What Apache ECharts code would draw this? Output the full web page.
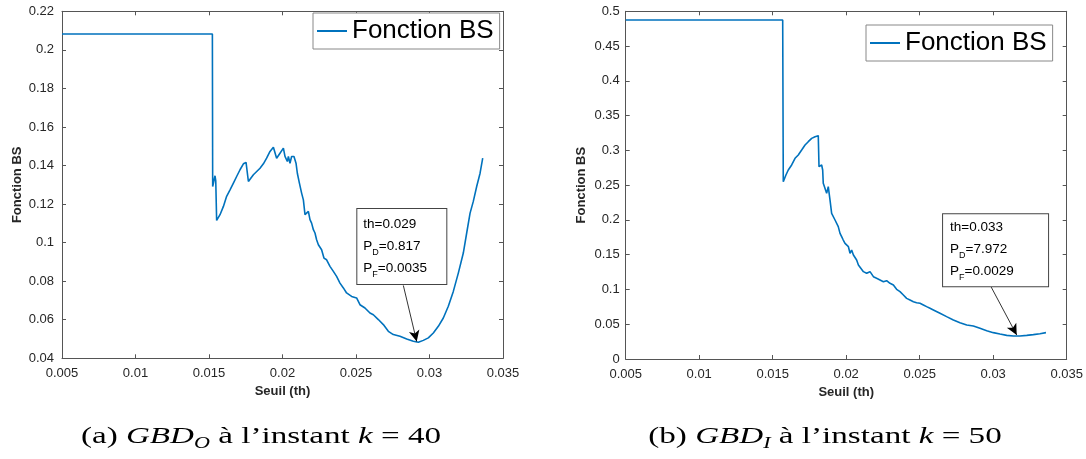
<!DOCTYPE html>
<html>
<head>
<meta charset="utf-8">
<script src="https://cdn.jsdelivr.net/npm/echarts@6/dist/echarts.min.js"></script>
<style>
html,body{margin:0;padding:0;background:#fff;}
#c{width:1086px;height:459px;}
</style>
</head>
<body>
<div id="c"></div>
<script>
// ---- Data (a) GBD_O, k = 40 ----
const thA = [0.005, 0.01523, 0.01525, 0.01535, 0.01541, 0.01546, 0.01552, 0.01575, 0.01598, 0.01620,
  0.01643, 0.01666, 0.01688, 0.01711, 0.01734, 0.01752, 0.01768, 0.01802, 0.01847, 0.01870,
  0.01892, 0.01915, 0.01938, 0.01949, 0.01960, 0.01983, 0.02006, 0.02017, 0.02033, 0.02040,
  0.02051, 0.02062, 0.02078, 0.02092, 0.02101, 0.02115, 0.02130, 0.02142, 0.02153, 0.02164,
  0.02176, 0.02187, 0.02198, 0.02210, 0.02221, 0.02232, 0.02244, 0.02266, 0.02282, 0.02300,
  0.02323, 0.02346, 0.02368, 0.02391, 0.02414, 0.02436, 0.02470, 0.02504, 0.02527, 0.02561,
  0.02595, 0.02618, 0.02652, 0.02686, 0.02720, 0.02754, 0.02799, 0.02845, 0.02890, 0.02924,
  0.02958, 0.02992, 0.03026, 0.03060, 0.03094, 0.03128, 0.03162, 0.03196, 0.03230, 0.03253,
  0.03276, 0.03298, 0.03321, 0.03344, 0.03355, 0.03362];
const bsA = [0.2082, 0.2082, 0.1291, 0.1300, 0.1347, 0.1320, 0.1115, 0.1145, 0.1188, 0.1240,
  0.1274, 0.1309, 0.1343, 0.1378, 0.1409, 0.1416, 0.1317, 0.1352, 0.1386, 0.1409,
  0.1438, 0.1473, 0.1495, 0.1502, 0.1438, 0.1464, 0.1490, 0.1447, 0.1421, 0.1447,
  0.1412, 0.1447, 0.1447, 0.1412, 0.1360, 0.1309, 0.1257, 0.1222, 0.1145, 0.1136,
  0.1162, 0.1119, 0.1101, 0.1067, 0.1050, 0.1015, 0.0989, 0.0963, 0.0920, 0.0911,
  0.0877, 0.0851, 0.0825, 0.0790, 0.0765, 0.0739, 0.0721, 0.0713, 0.0678, 0.0661,
  0.0635, 0.0626, 0.0601, 0.0575, 0.0540, 0.0523, 0.0514, 0.0500, 0.0488, 0.0483,
  0.0493, 0.0506, 0.0531, 0.0566, 0.0609, 0.0670, 0.0747, 0.0842, 0.0946, 0.1050,
  0.1153, 0.1214, 0.1291, 0.1360, 0.1360, 0.1438];

// ---- Data (b) GBD_I, k = 50 ----
const thB = [0.005, 0.01568, 0.01572, 0.01590, 0.01606, 0.01629, 0.01652, 0.01674, 0.01697, 0.01720,
  0.01742, 0.01765, 0.01788, 0.01810, 0.01815, 0.01822, 0.01833, 0.01840, 0.01844, 0.01856,
  0.01867, 0.01878, 0.01890, 0.01901, 0.01912, 0.01924, 0.01935, 0.01946, 0.01958, 0.01969,
  0.01980, 0.01992, 0.02003, 0.02015, 0.02026, 0.02037, 0.02049, 0.02060, 0.02071, 0.02083,
  0.02094, 0.02117, 0.02139, 0.02162, 0.02185, 0.02207, 0.02230, 0.02253, 0.02275, 0.02298,
  0.02321, 0.02343, 0.02366, 0.02389, 0.02411, 0.02434, 0.02457, 0.02479, 0.02502, 0.02525,
  0.02547, 0.02570, 0.02593, 0.02638, 0.02683, 0.02729, 0.02774, 0.02820, 0.02865, 0.02910,
  0.02956, 0.03001, 0.03046, 0.03092, 0.03137, 0.03182, 0.03228, 0.03273, 0.03318, 0.03359];
const bsB = [0.4875, 0.4875, 0.2550, 0.2646, 0.2718, 0.2790, 0.2886, 0.2934, 0.3005, 0.3077,
  0.3125, 0.3173, 0.3197, 0.3212, 0.2766, 0.2742, 0.2790, 0.2718, 0.2526, 0.2550,
  0.2382, 0.2478, 0.2286, 0.2095, 0.2119, 0.1999, 0.2023, 0.1903, 0.1807, 0.1759,
  0.1711, 0.1663, 0.1663, 0.1615, 0.1520, 0.1567, 0.1496, 0.1472, 0.1424, 0.1352,
  0.1328, 0.1256, 0.1232, 0.1256, 0.1184, 0.1160, 0.1136, 0.1112, 0.1126, 0.1088,
  0.1064, 0.1002, 0.0968, 0.0920, 0.0872, 0.0848, 0.0824, 0.0810, 0.0801, 0.0777,
  0.0753, 0.0729, 0.0705, 0.0657, 0.0609, 0.0561, 0.0522, 0.0489, 0.0474, 0.0441,
  0.0407, 0.0379, 0.0359, 0.0340, 0.0331, 0.0331, 0.0340, 0.0350, 0.0364, 0.0379];

// ---- Annotation texts and anchors (data coordinates) ----
const annA = ['0.029', '0.817', '0.0035'];
const annB = ['0.033', '7.972', '0.0029'];
const boxA = [0.02509, 0.1174];
const boxB = [0.02659, 0.2081];
const arrowA = [[0.02822, 0.0778], [0.02913, 0.0487]];
const arrowB = [[0.02985, 0.1040], [0.03160, 0.0345]];

// ---- Axis settings ----
const xTicks = {min: 0.005, max: 0.035, interval: 0.005};
const yTicksA = {min: 0.04, max: 0.22, interval: 0.02};
const yTicksB = {min: 0, max: 0.5, interval: 0.05};
const seriesName = 'Fonction BS';
const xName = 'Seuil (th)';
const yName = 'Fonction BS';
const captionA = ['(a) ', 'GBD', 'O', ' à l’instant ', 'k', ' = 40'];
const captionB = ['(b) ', 'GBD', 'I', ' à l’instant ', 'k', ' = 50'];

const SANS = '"Liberation Sans", Arial, sans-serif';
const SERIF = '"Liberation Serif", "DejaVu Serif", serif';
const AX = '#555';
const LBL = '#262626';
const BLUE = '#0072BD';

function pairs(xs, ys) { return xs.map((x, i) => [x, ys[i]]); }

function xAxisMain(gi) {
  return {
    type: 'value', gridIndex: gi, position: 'bottom', ...xTicks,
    name: xName, nameLocation: 'middle', nameGap: 26,
    nameTextStyle: {fontFamily: SANS, fontSize: 13, fontWeight: 'bold', color: LBL},
    axisLine: {show: true, onZero: false, lineStyle: {color: AX, width: 1}},
    axisTick: {show: true, inside: true, length: 4, lineStyle: {color: AX}},
    axisLabel: {show: true, margin: 9, fontFamily: SANS, fontSize: 13, color: LBL,
      formatter: v => String(+v.toFixed(4))},
    splitLine: {show: false}
  };
}
function xAxisTop(gi) {
  return {
    type: 'value', gridIndex: gi, position: 'top', ...xTicks,
    axisLine: {show: true, onZero: false, lineStyle: {color: AX, width: 1}},
    axisTick: {show: true, inside: true, length: 4, lineStyle: {color: AX}},
    axisLabel: {show: false}, splitLine: {show: false}
  };
}
function yAxisMain(gi, ticks, margin) {
  return {
    type: 'value', gridIndex: gi, position: 'left', ...ticks,
    name: yName, nameLocation: 'middle', nameGap: 38, nameRotate: 90,
    nameTextStyle: {fontFamily: SANS, fontSize: 13, fontWeight: 'bold', color: LBL},
    axisLine: {show: true, onZero: false, lineStyle: {color: AX, width: 1}},
    axisTick: {show: true, inside: true, length: 4, lineStyle: {color: AX}},
    axisLabel: {show: true, margin: margin, fontFamily: SANS, fontSize: 13, color: LBL,
      formatter: v => String(+v.toFixed(4))},
    splitLine: {show: false}
  };
}
function yAxisRight(gi, ticks) {
  return {
    type: 'value', gridIndex: gi, position: 'right', ...ticks,
    axisLine: {show: true, onZero: false, lineStyle: {color: AX, width: 1}},
    axisTick: {show: true, inside: true, length: 4, lineStyle: {color: AX}},
    axisLabel: {show: false}, splitLine: {show: false}
  };
}

function annLabel(ann, width, pad) {
  return {
    show: true, position: [0, 0],
    formatter: '{t|th=' + ann[0] + '}\n{t|P}{s|D}{t|=' + ann[1] + '}\n{t|P}{s|F}{t|=' + ann[2] + '}',
    width: width, padding: pad,
    backgroundColor: '#fff', borderColor: '#444', borderWidth: 1,
    rich: {
      t: {fontFamily: SANS, fontSize: 13.5, color: '#000', lineHeight: 22, verticalAlign: 'middle'},
      s: {fontFamily: SANS, fontSize: 9, color: '#000', lineHeight: 10, verticalAlign: 'bottom'}
    }
  };
}

function lineSeries(xi, yi, xs, ys, box, ann, arrow, boxW, pad) {
  return {
    type: 'line', name: seriesName, xAxisIndex: xi, yAxisIndex: yi,
    data: pairs(xs, ys), showSymbol: false, symbol: 'none',
    lineStyle: {color: BLUE, width: 1.6}, itemStyle: {color: BLUE},
    emphasis: {disabled: true}, silent: true,
    markLine: {
      silent: true, symbol: ['none', 'arrow'], symbolSize: [8, 11],
      label: {show: false},
      lineStyle: {color: '#000', width: 0.8, type: 'solid'},
      emphasis: {disabled: true},
      data: [[{coord: arrow[0], symbol: 'none'}, {coord: arrow[1], symbol: 'arrow'}]]
    },
    markPoint: {
      silent: true, symbol: 'rect', symbolSize: 0,
      data: [{coord: box, label: annLabel(ann, boxW, pad)}]
    }
  };
}

function captionRich(parts) {
  return '{r|' + parts[0] + '}{i|' + parts[1] + '}{sub|' + parts[2] + '}{r|' + parts[3] + '}{i|' + parts[4] + '}{r|' + parts[5] + '}';
}
const capRich = {
  r: {fontFamily: SERIF, fontSize: 24, color: '#111', lineHeight: 30, verticalAlign: 'middle'},
  i: {fontFamily: SERIF, fontSize: 24, fontStyle: 'italic', color: '#111', lineHeight: 30, verticalAlign: 'middle'},
  sub: {fontFamily: SERIF, fontSize: 16, fontStyle: 'italic', color: '#111', lineHeight: 12, verticalAlign: 'bottom'}
};

function legendAt(left, top) {
  return {
    left: left, top: top, padding: [5, 6, 5, 4], itemWidth: 30, itemHeight: 2, itemGap: 5,
    icon: 'rect', itemStyle: {color: BLUE, borderWidth: 0},
    backgroundColor: '#fff', borderColor: '#888', borderWidth: 1, borderRadius: 0,
    selectedMode: false, data: [seriesName],
    textStyle: {fontFamily: SANS, fontSize: 26, color: '#000'}
  };
}

const chart = echarts.init(document.getElementById('c'), null, {renderer: 'canvas'});
chart.setOption({
  animation: false,
  backgroundColor: '#fff',
  grid: [
    {left: 62, top: 11.3, width: 441, height: 347},
    {left: 625.7, top: 11.3, width: 441, height: 347.7}
  ],
  xAxis: [xAxisMain(0), xAxisTop(0), xAxisMain(1), xAxisTop(1)],
  yAxis: [yAxisMain(0, yTicksA, 8), yAxisRight(0, yTicksA), yAxisMain(1, yTicksB, 6), yAxisRight(1, yTicksB)],
  legend: [legendAt(313, 13), legendAt(866, 25)],
  series: [
    lineSeries(0, 0, thA, bsA, boxA, annA, arrowA, 77, [4, 6, 5, 6]),
    lineSeries(2, 2, thB, bsB, boxB, annB, arrowB, 92, [2, 6, 4, 7])
  ],
  graphic: [
    {type: 'text', x: 261, y: 437, scaleX: 1.38, silent: true,
     style: {text: captionRich(captionA), rich: capRich, align: 'center', verticalAlign: 'middle'}},
    {type: 'text', x: 825, y: 437, scaleX: 1.38, silent: true,
     style: {text: captionRich(captionB), rich: capRich, align: 'center', verticalAlign: 'middle'}}
  ]
});
</script>
</body>
</html>
